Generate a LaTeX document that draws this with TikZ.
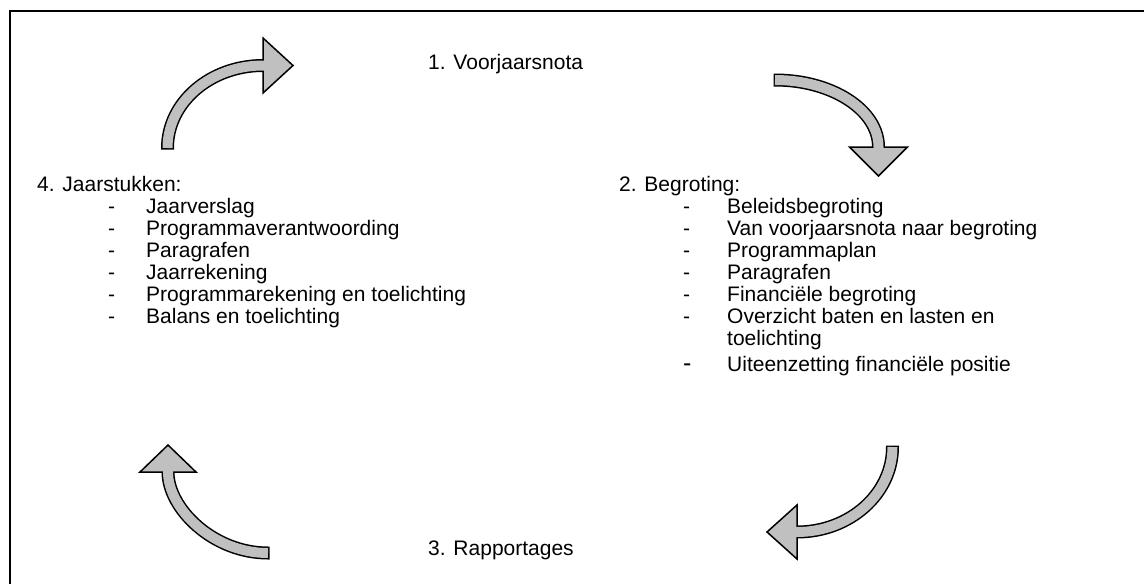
\documentclass[tikz,border=0pt]{standalone}
\usepackage{fontspec}
\setmainfont{Liberation Sans}
\definecolor{arrowgray}{RGB}{192,192,192}
\begin{document}
\begin{tikzpicture}[x=1pt,y=-1pt,
  txt/.style={anchor=base west, inner sep=0pt, font=\fontsize{21}{22}\selectfont},
  shaftout/.style={line width=13pt, draw=black},
  shaftin/.style={line width=10pt, draw=arrowgray},
  head/.style={fill=arrowgray, draw=black, line width=1.5pt, line join=miter}]
\useasboundingbox (0,0) rectangle (1144,584);
\fill[white] (0,0) rectangle (1144,584);
% frame
\draw[line width=2pt] (10,584) -- (10,11) -- (1144,11);

% texts
\node[txt] (t1) at (428,69) {1. Voorjaarsnota};
\node[txt] (t3) at (428,555) {3. Rapportages};

\node[txt] (t4) at (37,191) {4. Jaarstukken:};
\foreach \i/\s in {1/Jaarverslag,2/Programmaverantwoording,3/Paragrafen,4/Jaarrekening,5/Programmarekening en toelichting,6/Balans en toelichting}{
  \node[txt] (ld\i) at (108,{191+22*\i}) {-};
  \node[txt] (lt\i) at (146,{191+22*\i}) {\s};
}

\node[txt] (t2) at (619,191) {2. Begroting:};
\foreach \i/\s in {1/Beleidsbegroting,2/Van voorjaarsnota naar begroting,3/Programmaplan,4/Paragrafen,5/Financiële begroting,6/Overzicht baten en lasten en}{
  \node[txt] (rd\i) at (683,{191+22*\i}) {-};
  \node[txt] (rt\i) at (727,{191+22*\i}) {\s};
}
\node[txt] (rt7) at (727,345) {toelichting};
\node[txt, font=\fontsize{25}{26}\selectfont] (rd8) at (683,371) {-};
\node[txt] (rt8) at (727,371) {Uiteenzetting financiële positie};

% arrow 1 (top left)
\coordinate (a1s) at (167.5,148);
\coordinate (a1b) at (263,65.5);
\draw[shaftout] (167.5,149.5) -- (a1s) .. controls (167.5,102.4) and (210.3,65.5) .. (a1b);
\draw[head] (263,38) -- (293,65.5) -- (263,93) -- cycle;
\draw[shaftin] (a1s) .. controls (167.5,102.4) and (210.3,65.5) .. (a1b) -- (266,65.5);

% arrow 2 (top right)
\coordinate (a2s) at (775,80);
\coordinate (a2b) at (878.5,147);
\draw[shaftout] (773.5,80) -- (a2s) .. controls (832,80) and (878.5,110) .. (a2b);
\draw[head] (849.5,147) -- (878.5,176) -- (907.5,147) -- cycle;
\draw[shaftin] (a2s) .. controls (832,80) and (878.5,110) .. (a2b) -- (878.5,150);

% arrow 3 (bottom right)
\coordinate (a3s) at (892.5,447);
\coordinate (a3b) at (797,532);
\draw[shaftout] (892.5,445.5) -- (a3s) .. controls (892.5,493.9) and (849.7,532) .. (a3b);
\draw[head] (797,505) -- (767,532) -- (797,559) -- cycle;
\draw[shaftin] (a3s) .. controls (892.5,493.9) and (849.7,532) .. (a3b) -- (794,532);

% arrow 4 (bottom left)
\coordinate (a4s) at (268,553);
\coordinate (a4b) at (168,472);
\draw[shaftout] (269.5,553) -- (a4s) .. controls (212.8,553) and (168,508.3) .. (a4b);
\draw[head] (140,472) -- (168,445) -- (196,472) -- cycle;
\draw[shaftin] (a4s) .. controls (212.8,553) and (168,508.3) .. (a4b) -- (168,469);
\end{tikzpicture}
\end{document}
